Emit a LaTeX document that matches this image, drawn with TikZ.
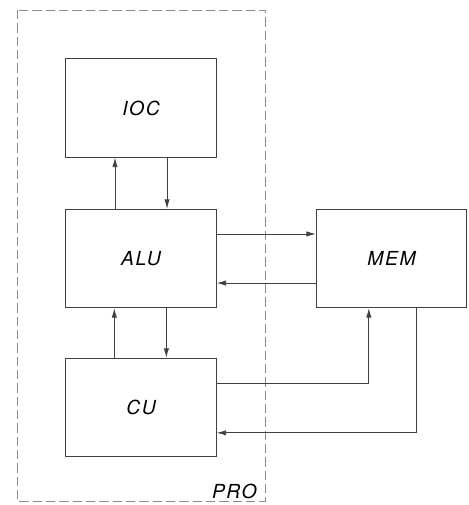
\documentclass[tikz,border=0pt]{standalone}
\usepackage{fontspec}
\setsansfont{TeX Gyre Heros}[LetterSpace=8]
\usetikzlibrary{arrows.meta,positioning,calc}

\begin{document}
\begin{tikzpicture}[
  x=0.75pt, y=-0.75pt,
  unit/.style={draw=black!75, line width=0.6pt, minimum width=113pt, minimum height=74pt,
               inner sep=0pt, font=\fontsize{14.5}{18}\selectfont\sffamily\itshape},
  link/.style={draw=black!75, line width=0.6pt},
  >={Latex[length=7pt,width=4pt]}
]
  \useasboundingbox (0,0) rectangle (468,505);

  % processor boundary
  \draw[black!45, dashed, dash pattern=on 7pt off 3pt, line width=0.5pt] (17,10) rectangle (265,501);
  \node[font=\fontsize{14.5}{18}\selectfont\sffamily\itshape, anchor=south east, inner sep=0pt] (pro) at (257,499) {PRO};

  \node[unit] (ioc) at (141,108)   {IOC};
  \node[unit] (alu) at (141,258.5) {ALU};
  \node[unit] (cu)  at (141,407.5) {CU};
  \node[unit] (mem) at (391.5,258.5) {MEM};

  % ALU <-> IOC
  \draw[link, ->] ([xshift=-19.5pt]alu.north) -- ([xshift=-19.5pt]ioc.south);
  \draw[link, ->] ([xshift=19.5pt]ioc.south) -- ([xshift=19.5pt]alu.north);

  % CU <-> ALU
  \draw[link, ->] ([xshift=-20pt]cu.north) -- ([xshift=-20pt]alu.south);
  \draw[link, ->] ([xshift=19pt]alu.south) -- ([xshift=19pt]cu.north);

  % ALU <-> MEM
  \draw[link, ->] ([yshift=18.4pt]alu.east) -- ([yshift=18.4pt]mem.west);
  \draw[link, ->] ([yshift=-18.4pt]mem.west) -- ([yshift=-18.4pt]alu.east);

  % CU <-> MEM
  \draw[link, ->] ([yshift=18.4pt]cu.east) -| ([xshift=-17pt]mem.south);
  \draw[link, ->] ([xshift=19pt]mem.south) |- ([yshift=-19pt]cu.east);
\end{tikzpicture}
\end{document}
